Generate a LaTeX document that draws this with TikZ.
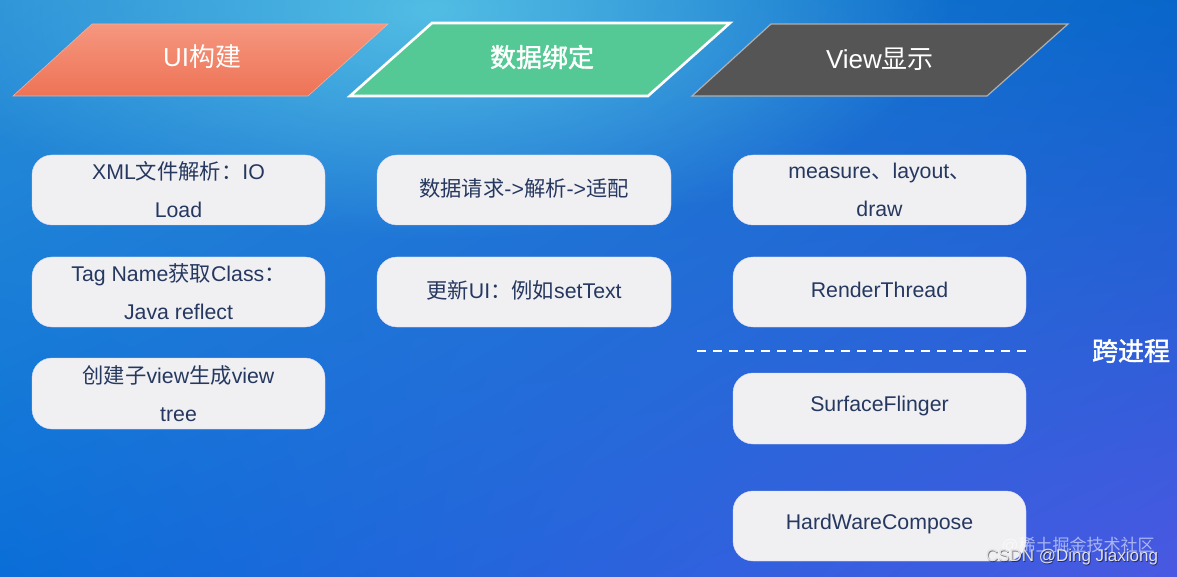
\documentclass[tikz,border=0pt]{standalone}
\usepackage{fontspec}
\setmainfont{Liberation Sans}
\newfontfamily\cjk{Noto Sans CJK SC}
\newfontfamily\cjkb[FakeBold=1.6]{Noto Sans CJK SC}
\newcommand\zh[1]{{\cjk #1}}
\newcommand\zhb[1]{{\cjkb #1}}
\usetikzlibrary{fadings,shadings}
\tikzfading[name=glowfade, inner color=transparent!0, outer color=transparent!100]
\definecolor{txt}{HTML}{263860}
\definecolor{boxfill}{HTML}{F0F0F2}
\definecolor{orgtop}{HTML}{F5977F}
\definecolor{orgbot}{HTML}{EE7356}
\definecolor{grn}{HTML}{55C995}
\definecolor{gry}{HTML}{555555}
\definecolor{bgul}{RGB}{42,142,214}
\definecolor{bgur}{RGB}{8,102,202}
\definecolor{bgll}{RGB}{10,110,216}
\definecolor{bglr}{RGB}{74,88,226}
\definecolor{bgglow}{RGB}{88,196,230}
\definecolor{grayedge}{RGB}{175,175,175}
\definecolor{wmtext}{RGB}{225,225,230}
\tikzset{
  box/.style={fill=boxfill, draw=boxfill!90!blue, line width=0.4pt, rounded corners=20pt},
  boxtext/.style={text=txt, font=\fontsize{21.3}{38}\selectfont, align=center, inner sep=0pt},
  hdr/.style={text=white, font=\fontsize{26}{30}\selectfont, inner sep=0pt},
  sep/.style={draw=white, line width=1.4pt, dash pattern=on 9pt off 7pt},
}
\begin{document}
\begin{tikzpicture}[x=1pt,y=-1pt]
\useasboundingbox (0,0) rectangle (1177,577);
% background
\shade[upper left=bgul, upper right=bgur, lower left=bgll, lower right=bglr]
  (0,0) rectangle (1177,577);
\fill[color=bgglow, path fading=glowfade, opacity=0.9]
  (430,10) ellipse [x radius=520, y radius=230];

% headers
\shade[top color=orgtop, bottom color=orgbot, draw=orgtop!80!white, line width=0.6pt]
  (13,96) -- (92,24) -- (388,24) -- (308,96) -- cycle;
\node[hdr] (h1) at (202,57) {UI\zh{构建}};

\draw[fill=grn, draw=white, line width=2.6pt]
  (350,96) -- (432,23) -- (730,23) -- (648,96) -- cycle;
\node[hdr] (h2) at (542,57) {\zhb{数据绑定}};

\draw[fill=gry, draw=grayedge, line width=1.2pt]
  (692,96) -- (771,24) -- (1068,24) -- (987,96) -- cycle;
\node[hdr] (h3) at (880,59) {View\zh{显示}};

% left column
\path[box] (32,155) rectangle (325,225);
\node[boxtext] (a1) at (178.5,190) {XML\zh{文件解析：}IO\\Load};
\path[box] (32,257) rectangle (325,327);
\node[boxtext] (a2) at (178.5,292) {Tag Name\zh{获取}Class\zh{：}\\Java reflect};
\path[box] (32,358) rectangle (325,429);
\node[boxtext] (a3) at (178.5,393.5) {\zh{创建子}view\zh{生成}view\\tree};

% middle column
\path[box] (377,155) rectangle (671,225);
\node[boxtext] (b1) at (524,188) {\zh{数据请求}->\zh{解析}->\zh{适配}};
\path[box] (377,257) rectangle (671,327);
\node[boxtext] (b2) at (524,290) {\zh{更新}UI\zh{：例如}setText};

% right column
\path[box] (733,155) rectangle (1026,225);
\node[boxtext] (c1) at (879.5,190) {measure\zh{、}layout\zh{、}\\draw};
\path[box] (733,257) rectangle (1026,327);
\node[boxtext] (c2) at (879.5,290) {RenderThread};
\path[box] (733,373) rectangle (1026,444);
\node[boxtext] (c3) at (879.5,406) {SurfaceFlinger};
\path[box] (733,491) rectangle (1026,561);
\node[boxtext] (c4) at (879.5,524) {HardWareCompose};

% separator
\coordinate (s1) at (697,351);
\coordinate (s2) at (1033,351);
\draw[sep] (s1) -- (s2);
\node[text=white, font=\fontsize{26}{30}\selectfont, inner sep=0pt] (kj) at (1131,351) {\zhb{跨进程}};

% watermark
\node[text=white, opacity=0.55, font=\fontsize{17}{20}\selectfont, inner sep=0pt] (wm1) at (1078,545) {@\zh{稀土掘金技术社区}};
\node[text=black, opacity=0.5, font=\fontsize{17}{20}\selectfont, inner sep=0pt] (wm2s) at (1072.8,557.8) {CSDN @Ding Jiaxiong};
\node[text=wmtext, font=\fontsize{17}{20}\selectfont, inner sep=0pt] (wm2) at (1072,557) {CSDN @Ding Jiaxiong};
\end{tikzpicture}
\end{document}
